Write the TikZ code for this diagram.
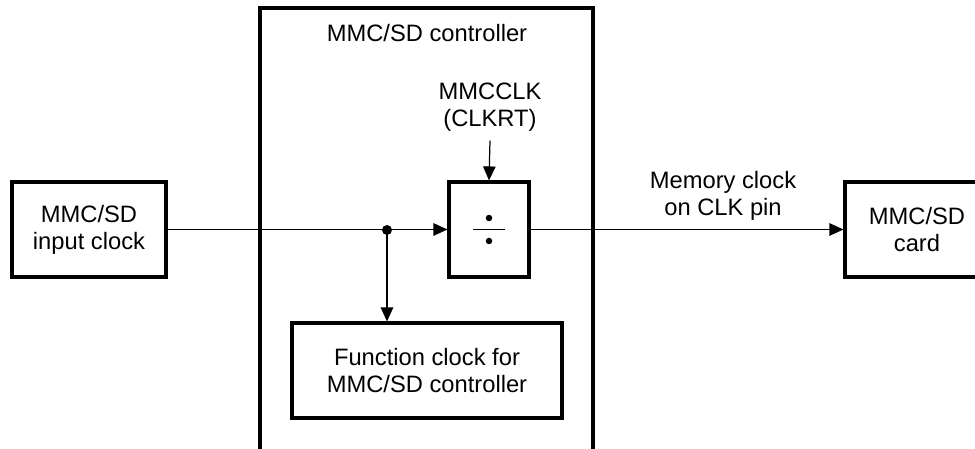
\documentclass[tikz,border=0pt]{standalone}
\usepackage{fontspec}
\setmainfont{Liberation Sans}
\usetikzlibrary{arrows.meta}

\tikzset{
  block/.style={draw, line width=1.8pt, minimum height=1.9cm, align=center, inner sep=0pt},
  link/.style={line width=0.7pt, -{Triangle[length=2.8mm, width=2.5mm]}},
  plain/.style={line width=0.7pt}
}

\begin{document}
\begin{tikzpicture}[font=\fontsize{13.5}{15.5}\selectfont]
  \useasboundingbox (0,0) rectangle (19.5,-8.98);
  \clip (0,0) rectangle (19.5,-8.98);

  % controller frame, open at the bottom edge
  \draw[line width=1.8pt] (5.2,-9.3) rectangle (11.86,-0.16);
  \node (ctrl) at (8.54,-0.66) {MMC/SD controller};

  \node[block, minimum width=3.08cm] (inclk) at (1.78,-4.59) {MMC/SD\\input clock};
  \node[block, minimum width=1.6cm] (div) at (9.78,-4.59) {};
  \node[block, minimum width=5.4cm] (fclk) at (8.54,-7.41) {Function clock for\\MMC/SD controller};
  \node[block, minimum width=2.88cm] (card) at (18.34,-4.59) {MMC/SD\\card};

  \node[align=center] (clkrt) at (9.8,-2.14) {MMCCLK\\(CLKRT)};
  \node[align=center] (memclk) at (14.46,-3.92) {Memory clock\\on CLK pin};

  \coordinate (J) at (7.74,-4.6);

  % divider sign
  \draw[plain] (div.center) ++(-0.32,0) -- ++(0.64,0);
  \fill (div.center) ++(0,0.23) circle (0.065);
  \fill (div.center) ++(0,-0.23) circle (0.065);

  \draw[link] (inclk) -- (div);
  \fill (J) circle (0.1);
  \draw[link] (J) -- (J |- fclk.north);
  \draw[link] (clkrt.south) ++(0,-0.06) -- (div.north);
  \draw[link] (div) -- (card);
\end{tikzpicture}
\end{document}
